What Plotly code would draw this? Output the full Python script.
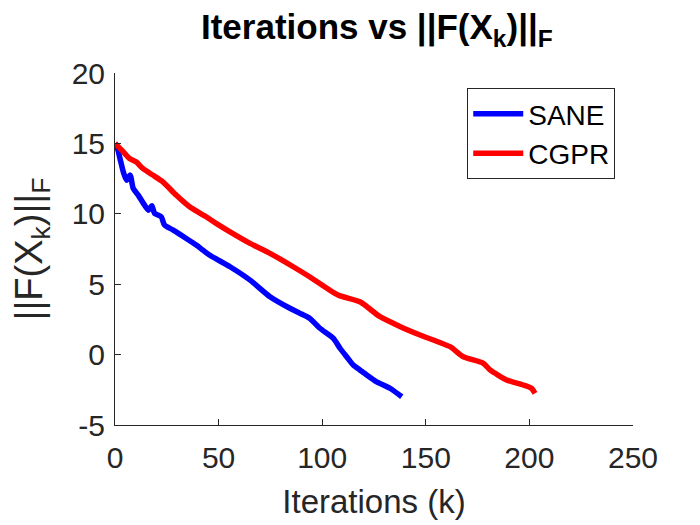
import plotly.graph_objects as go

# SANE iterations / residual norm
sane_k = [0, 1, 2.4, 4, 5.6, 7.3, 8.8, 11.2, 13.7, 16.1, 17.8, 19.1, 22.3, 23.9, 28.1,
          34.4, 39.2, 45.6, 55.5, 65.2, 74.8, 84.4, 89.3, 93.9, 98.9, 105.4, 108.6,
          111.8, 115, 118.2, 121.5, 126.1, 132.7, 138.4]
sane_f = [15.0, 14.76, 13.93, 12.98, 12.39, 12.75, 11.8, 11.33, 10.74, 10.26, 10.57,
          10.03, 9.79, 9.2, 8.84, 8.25, 7.78, 7.07, 6.24, 5.29, 4.11, 3.29, 2.93, 2.58,
          1.87, 1.16, 0.45, -0.15, -0.74, -1.09, -1.45, -1.92, -2.39, -2.99]

# CGPR iterations / residual norm
cgpr_k = [0, 4, 7, 10.2, 13.4, 18.2, 23.1, 29.5, 36, 44, 48.8, 55.5, 65.2, 74.8, 86,
          93.9, 107.6, 118.2, 127.9, 137.5, 147.2, 161.7, 168.1, 177.8, 181, 189, 197,
          201, 202.7]
cgpr_f = [15.0, 14.4, 13.93, 13.69, 13.22, 12.75, 12.27, 11.33, 10.5, 9.79, 9.32, 8.72,
          7.9, 7.19, 6.24, 5.53, 4.23, 3.75, 2.69, 2.0, 1.39, 0.56, -0.15, -0.62, -1.09,
          -1.8, -2.16, -2.39, -2.75]

x_ticks = [0, 50, 100, 150, 200, 250]
y_ticks = [-5, 0, 5, 10, 15, 20]
y_labels = ["-5", "0", "5", "10", "15", "20"]

FONT = "Liberation Sans, Arial, sans-serif"
AX = "#262626"

fig = go.Figure()
fig.add_trace(go.Scatter(x=sane_k, y=sane_f, mode="lines", name="SANE",
                         line=dict(color="rgb(0,0,255)", width=5.5, shape="spline", smoothing=0.6)))
fig.add_trace(go.Scatter(x=cgpr_k, y=cgpr_f, mode="lines", name="CGPR",
                         line=dict(color="rgb(255,0,0)", width=5.5, shape="spline", smoothing=0.6)))

axis_common = dict(
    showgrid=False, zeroline=False, showline=True, linecolor=AX, linewidth=1,
    ticks="inside", ticklen=6, tickwidth=1, tickcolor=AX, automargin=False,
    tickfont=dict(family=FONT, size=30, color=AX),
)

# page body adds an 8px margin, so the figure is 8px smaller than the window
fig.update_layout(
    width=692, height=517,
    plot_bgcolor="white", paper_bgcolor="white",
    margin=dict(l=107, r=67, t=65, b=100),
    title=dict(
        text="<b>Iterations vs ||F(X<sub>k</sub>)||<sub>F</sub></b>",
        font=dict(family=FONT, size=35, color="black"),
        x=0.533, xanchor="center", y=1 - 19 / 517, yanchor="middle", automargin=False,
    ),
    xaxis=dict(range=[0, 250], tickvals=x_ticks, ticklabelstandoff=6,
               title=dict(text="Iterations (k)", font=dict(family=FONT, size=33, color=AX), standoff=16),
               **axis_common),
    yaxis=dict(range=[-5, 20], tickvals=y_ticks, ticktext=y_labels, ticklabelstandoff=3,
               title=dict(text="||F(X<sub>k</sub>)||<sub>F</sub>", font=dict(family=FONT, size=38, color=AX), standoff=20),
               **axis_common),
    legend=dict(x=0.68, y=0.957, xanchor="left", yanchor="top",
                bgcolor="white", bordercolor=AX, borderwidth=1,
                font=dict(family=FONT, size=28, color="black"),
                itemwidth=50, tracegroupgap=0),
    showlegend=True,
)

fig.write_html("out.html")
